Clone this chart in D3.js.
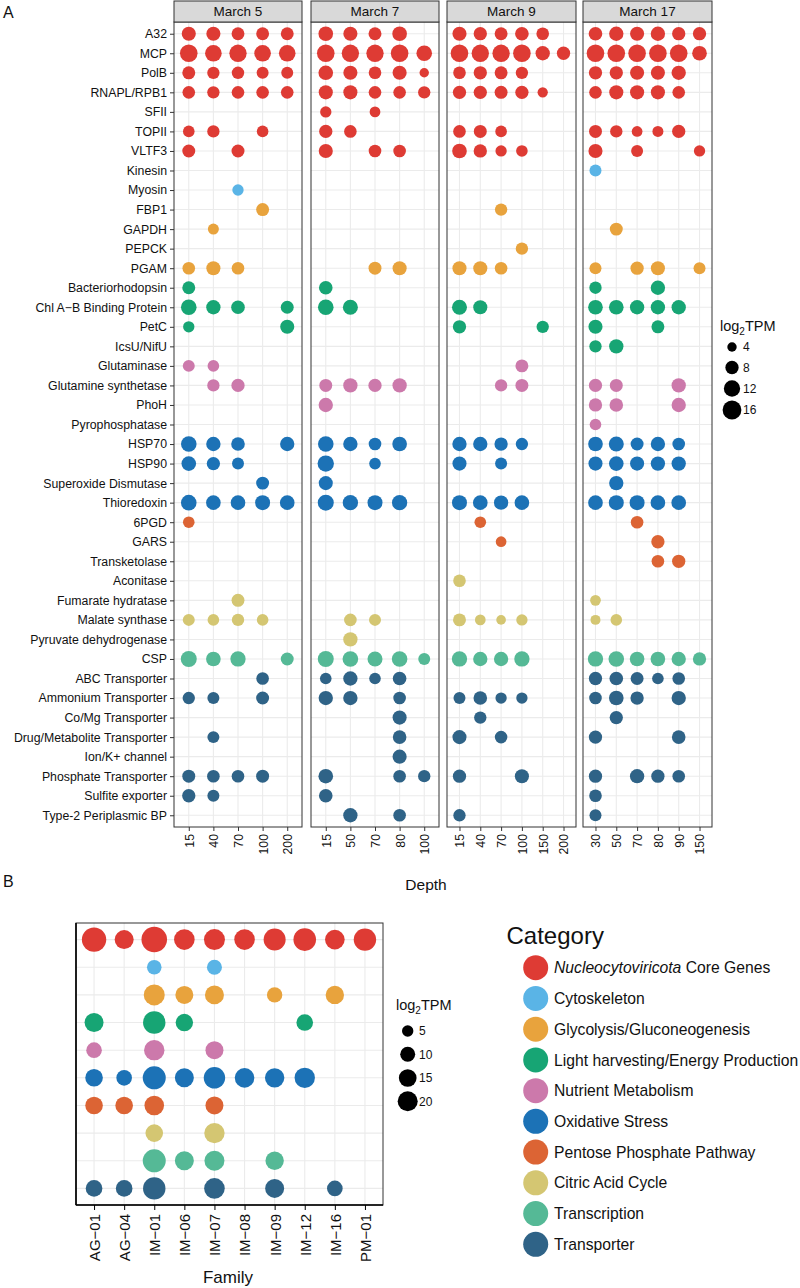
<!DOCTYPE html>
<html>
<head>
<meta charset="utf-8">
<script src="https://cdn.jsdelivr.net/npm/d3@7"></script>
<style>
  html, body { margin: 0; padding: 0; background: #fff; }
  svg { display: block; font-family: "Liberation Sans", Arial, Helvetica, sans-serif; }
</style>
</head>
<body>
<svg id="chart" width="800" height="1288"></svg>
<script>
// ---------------- DATA ----------------
const categories = [
  "Nucleocytoviricota Core Genes", "Cytoskeleton", "Glycolysis/Gluconeogenesis",
  "Light harvesting/Energy Production", "Nutrient Metabolism", "Oxidative Stress",
  "Pentose Phosphate Pathway", "Citric Acid Cycle", "Transcription", "Transporter"
];
const categoryColors = ["#de3b34", "#5ab4e6", "#e8a33d", "#17a574", "#cc79ab",
  "#1c72b6", "#dc6434", "#d4c672", "#55b996", "#2f6387"];

const genes = ["A32", "MCP", "PolB", "RNAPL/RPB1", "SFII", "TOPII", "VLTF3",
  "Kinesin", "Myosin",
  "FBP1", "GAPDH", "PEPCK", "PGAM",
  "Bacteriorhodopsin", "Chl A\u2212B Binding Protein", "PetC", "IcsU/NifU",
  "Glutaminase", "Glutamine synthetase", "PhoH", "Pyrophosphatase",
  "HSP70", "HSP90", "Superoxide Dismutase", "Thioredoxin",
  "6PGD", "GARS", "Transketolase",
  "Aconitase", "Fumarate hydratase", "Malate synthase", "Pyruvate dehydrogenase",
  "CSP",
  "ABC Transporter", "Ammonium Transporter", "Co/Mg Transporter",
  "Drug/Metabolite Transporter", "Ion/K+ channel", "Phosphate Transporter",
  "Sulfite exporter", "Type-2 Periplasmic BP"];
const geneCategory = [0,0,0,0,0,0,0, 1,1, 2,2,2,2, 3,3,3,3, 4,4,4,4, 5,5,5,5,
  6,6,6, 7,7,7,7, 8, 9,9,9,9,9,9,9,9];

const dates = ["March 5", "March 7", "March 9", "March 17"];
const depths = [
  [15, 40, 70, 100, 200],
  [15, 50, 70, 80, 100],
  [15, 40, 70, 100, 150, 200],
  [30, 50, 70, 80, 90, 150]
];
const n = null;
// log2TPM per gene (rows, same order as genes) per depth (columns)
const tpmMarch5 = [
  [9, 9, 7.5, 7.5, 7.5], [14, 12.5, 13.6, 12.5, 12.5], [7.6, 6.9, 7, 6.5, 6.5],
  [7.2, 6.9, 7.2, 7.2, 7.2], [n, n, n, n, n], [6.1, 6.9, n, 6.1, n], [7.6, n, 7.6, n, n],
  [n, n, n, n, n], [n, n, 5.8, n, n],
  [n, n, n, 7.6, n], [n, 5.5, n, n, n], [n, n, n, n, n], [7.2, 9, 7.2, n, n],
  [7.6, n, n, n, n], [11, 9.3, 8.4, n, 7.6], [5.8, n, n, n, 9], [n, n, n, n, n],
  [6.5, 6.1, n, n, n], [n, 6.9, 8, n, n], [n, n, n, n, n], [n, n, n, n, n],
  [11, 9.3, 8.4, n, 9.3], [9.7, 8, 6.5, n, n], [n, n, n, 7.6, n], [11, 9.7, 9.7, 10.2, 9.7],
  [6.1, n, n, n, n], [n, n, n, n, n], [n, n, n, n, n],
  [n, n, n, n, n], [n, n, 7.6, n, n], [6.5, 6.1, 6.9, 6.1, n], [n, n, n, n, n],
  [11.6, 9.7, 10.6, n, 7.6],
  [n, n, n, 7.2, n], [6.9, 6.5, n, 7.6, n], [n, n, n, n, n], [n, 6.5, n, n, n],
  [n, n, n, n, n], [7.6, 7.2, 7.2, 7.6, n], [8, 6.5, n, n, n], [n, n, n, n, n]
];
const tpmMarch7 = [
  [9.7, 9, 7.6, 9.7, n], [14, 13.6, 13.6, 14, 11], [9.7, 9, 7.2, 9, 4],
  [9, 9, 7.2, 7.2, 6.9], [5.8, n, 5.2, n, n], [8, 7.2, n, n, n], [9, n, 7.2, 7.2, n],
  [n, n, n, n, n], [n, n, n, n, n],
  [n, n, n, n, n], [n, n, n, n, n], [n, n, n, n, n], [n, n, 7.6, 9, n],
  [8.4, n, n, n, n], [11, 10.2, n, n, n], [n, n, n, n, n], [n, n, n, n, n],
  [n, n, n, n, n], [7.6, 9.3, 8, 9.3, n], [9.3, n, n, n, n], [n, n, n, n, n],
  [11, 9.3, 7.2, 9.7, n], [12.1, n, 6.1, n, n], [9, n, n, n, n], [11.6, 10.6, 10.2, 10.6, n],
  [n, n, n, n, n], [n, n, n, n, n], [n, n, n, n, n],
  [n, n, n, n, n], [n, n, n, n, n], [n, 7.2, 6.5, n, n], [n, 9.3, n, n, n],
  [11.6, 11, 10.2, 11, 6.5],
  [6.1, 9.3, 6.1, 8.4, n], [9.3, 9.3, n, 7.2, n], [n, n, n, 9, n], [n, n, n, 8.4, n],
  [n, n, n, 9, n], [9.7, n, n, 7.2, 6.9], [8.4, n, n, n, n], [n, 9.3, n, 7.2, n]
];
const tpmMarch9 = [
  [9, 8, 7.6, 8.4, 7.2, n], [14, 13.6, 13.6, 14, 9.3, 8], [7.2, 8, 7.6, 6.9, n, n],
  [8, 8, 7.6, 8, 4.8, n], [n, n, n, n, n, n], [7.2, 7.6, 6.1, n, n, n], [9.7, 8, 5.8, 6.1, n, n],
  [n, n, n, n, n, n], [n, n, n, n, n, n],
  [n, n, 6.9, n, n, n], [n, n, n, n, n, n], [n, n, n, 6.9, n, n], [9, 9, 7.2, n, n, n],
  [n, n, n, n, n, n], [10.2, 9, n, n, n, n], [8, n, n, n, 6.9, n], [n, n, n, n, n, n],
  [n, n, n, 7.6, n, n], [n, n, 6.9, 7.6, n, n], [n, n, n, n, n, n], [n, n, n, n, n, n],
  [9.3, 9.3, 8, 6.9, n, n], [9, n, 6.5, n, n, n], [n, n, n, n, n, n], [10.2, 9.7, 9.3, 9.7, n, n],
  [n, 6.1, n, n, n, n], [n, n, 5.2, n, n, n], [n, n, n, n, n, n],
  [7.2, n, n, n, n, n], [n, n, n, n, n, n], [7.6, 5.2, 4.2, 5.8, n, n], [n, n, n, n, n, n],
  [10.6, 9.3, 9.3, 10.6, n, n],
  [n, n, n, n, n, n], [6.5, 8.4, 5.8, 5.8, n, n], [n, 6.9, n, n, n, n], [9, n, 7.2, n, n, n],
  [n, n, n, n, n, n], [8, n, n, 9, n, n], [n, n, n, n, n, n], [6.9, n, n, n, n, n]
];
const tpmMarch17 = [
  [8.4, 9.3, 9, 9.3, 8, 8], [14, 14, 14, 14, 14, 9.7], [8, 8, 9, 9, 9.3, n],
  [7.2, 9, 9, 9, 7.2, n], [n, n, n, n, n, n], [7.6, 6.9, 5.2, 5.5, 8, n], [9, n, 6.5, n, n, 5.8],
  [6.5, n, n, n, n, n], [n, n, n, n, n, n],
  [n, n, n, n, n, n], [n, 7.6, n, n, n, n], [n, n, n, n, n, n], [6.5, n, 8, 9, n, 6.5],
  [6.9, n, n, 9.3, n, n], [9.7, 9.7, 9.3, 9.3, 9.3, n], [9, n, n, 7.6, n, n], [6.9, 9.3, n, n, n, n],
  [n, n, n, n, n, n], [8, 7.6, n, n, 9.3, n], [8, 8.4, n, n, 9.3, n], [6.1, n, n, n, n, n],
  [9.7, 10.2, 7.6, 9.3, 7.2, n], [9, 9.7, 9, 9.3, 9.3, n], [n, 9.3, n, n, n, n], [9.7, 10.2, 10.2, 9.7, 9.7, n],
  [n, n, 7.2, n, n, n], [n, n, n, 8, n, n], [n, n, n, 7.2, 8, n],
  [n, n, n, n, n, n], [5.2, n, n, n, n, n], [4.5, 6.1, n, n, n, n], [n, n, n, n, n, n],
  [10.6, 11, 9.7, 9.7, 9.3, 8],
  [8, 8.4, 7.6, 6.1, 7.2, n], [7.2, 9.7, 8, n, 9.3, n], [n, 8, n, n, n, n], [8, n, n, n, 8.4, n],
  [n, n, n, n, n, n], [8, n, 9.3, 8, 7.2, n], [7.2, n, n, n, n, n], [6.5, n, n, n, n, n]
];
const tpmByDate = [tpmMarch5, tpmMarch7, tpmMarch9, tpmMarch17];
const sizeBreaksA = [4, 8, 12, 16];

const families = ["AG\u221201", "AG\u221204", "IM\u221201", "IM\u221206", "IM\u221207",
  "IM\u221208", "IM\u221209", "IM\u221212", "IM\u221216", "PM\u221201"];
// log2TPM per category (rows) per family (columns)
const tpmFamily = [
  [31.5, 17.7, 35, 21.4, 22.4, 21.4, 24.9, 26.5, 19.1, 26],
  [n, n, 9.4, n, 10.1, n, n, n, n, n],
  [n, n, 22.4, 15.6, 17.7, n, 10.7, n, 16.4, n],
  [17.7, n, 26, 14.4, n, n, n, 12.9, n, n],
  [11.1, n, 20.9, n, 15.6, n, n, n, n, n],
  [14.8, 11.1, 27.6, 17.7, 23.4, 19.1, 18.6, 20.9, n, n],
  [14.8, 14.8, 19.1, n, 15.6, n, n, n, n, n],
  [n, n, 14.8, n, 20.9, n, n, n, n, n],
  [n, n, 27.6, 17.7, 20, n, 16.4, n, n, n],
  [12.9, 12.9, 26, n, 21.4, n, 17.7, n, 11.1, n]
];
const sizeBreaksB = [5, 10, 15, 20];

// ---------------- DRAW ----------------
const svg = d3.select("#chart");
const textCol = "#111";
const gridCol = "#ebebeb";

// Panel A geometry
const panelTop = 22, panelBottom = 827, stripTop = 1;
const panelX = [[174, 302], [311, 439], [447, 576], [583, 712]];

const yA = d3.scalePoint().domain(genes).range([panelTop, panelBottom]).padding(0.6);
const rA = d3.scaleSqrt().domain([0, 16]).range([0, 9.4]);

svg.append("text").attr("x", 3).attr("y", 18).attr("font-size", 16).attr("fill", textCol).text("A");

dates.forEach((date, di) => {
  const [x0, x1] = panelX[di];
  const x = d3.scalePoint().domain(depths[di]).range([x0, x1]).padding(0.6);
  const g = svg.append("g");
  g.append("rect").attr("x", x0).attr("y", panelTop).attr("width", x1 - x0)
    .attr("height", panelBottom - panelTop).attr("fill", "#fff");
  g.selectAll(".gy").data(genes).join("line")
    .attr("x1", x0).attr("x2", x1).attr("y1", d => yA(d)).attr("y2", d => yA(d))
    .attr("stroke", gridCol).attr("stroke-width", 1.1);
  g.selectAll(".gx").data(depths[di]).join("line")
    .attr("x1", d => x(d)).attr("x2", d => x(d)).attr("y1", panelTop).attr("y2", panelBottom)
    .attr("stroke", gridCol).attr("stroke-width", 1.1);
  const pts = [];
  tpmByDate[di].forEach((row, gi) => row.forEach((v, k) => {
    if (v != null) pts.push({ gene: genes[gi], cat: geneCategory[gi], depth: depths[di][k], v });
  }));
  g.selectAll("circle").data(pts).join("circle")
    .attr("cx", d => x(d.depth)).attr("cy", d => yA(d.gene)).attr("r", d => rA(d.v))
    .attr("fill", d => categoryColors[d.cat]);
  g.append("rect").attr("x", x0).attr("y", panelTop).attr("width", x1 - x0)
    .attr("height", panelBottom - panelTop).attr("fill", "none").attr("stroke", "#333").attr("stroke-width", 1);
  g.append("rect").attr("x", x0).attr("y", stripTop).attr("width", x1 - x0)
    .attr("height", panelTop - stripTop).attr("fill", "#d9d9d9").attr("stroke", "#333").attr("stroke-width", 1);
  g.append("text").attr("x", (x0 + x1) / 2).attr("y", (stripTop + panelTop) / 2).attr("dy", "0.36em")
    .attr("text-anchor", "middle").attr("font-size", 13.5).attr("fill", textCol).text(date);
  const ax = g.append("g").attr("transform", `translate(0,${panelBottom})`)
    .call(d3.axisBottom(x).tickSize(4).tickSizeOuter(0).tickPadding(3));
  ax.select(".domain").remove();
  ax.selectAll(".tick line").attr("stroke", "#333");
  ax.selectAll(".tick text").attr("font-size", 12.3).attr("fill", textCol)
    .attr("transform", "rotate(-90)").attr("text-anchor", "end")
    .attr("x", -7).attr("y", 0).attr("dy", "0.36em");
});

const ayA = svg.append("g").attr("transform", `translate(${panelX[0][0]},0)`)
  .call(d3.axisLeft(yA).tickSize(4).tickSizeOuter(0).tickPadding(3));
ayA.select(".domain").remove();
ayA.selectAll(".tick line").attr("stroke", "#333");
ayA.selectAll(".tick text").attr("font-size", 12.3).attr("fill", textCol);
svg.selectAll("g").attr("font-family", null);

svg.append("text").attr("x", 426).attr("y", 890).attr("text-anchor", "middle")
  .attr("font-size", 15.5).attr("fill", textCol).text("Depth");

function sizeLegend(x, yTitle, yItems, cx, lx, breaks, rScale) {
  const t = svg.append("text").attr("x", x).attr("y", yTitle).attr("font-size", 14.5).attr("fill", textCol);
  t.append("tspan").text("log");
  t.append("tspan").attr("font-size", 10).attr("dy", 4).text("2");
  t.append("tspan").attr("dy", -4).text("TPM");
  breaks.forEach((b, i) => {
    svg.append("circle").attr("cx", cx).attr("cy", yItems[i]).attr("r", rScale(b)).attr("fill", "#000");
    svg.append("text").attr("x", lx).attr("y", yItems[i]).attr("dy", "0.36em")
      .attr("font-size", 12).attr("fill", textCol).text(b);
  });
}
sizeLegend(720, 331, [347, 367.5, 388.5, 410], 732, 743, sizeBreaksA, rA);

// ---------------- Panel B ----------------
svg.append("text").attr("x", 3).attr("y", 887).attr("font-size", 16).attr("fill", textCol).text("B");

const bX0 = 76, bX1 = 383, bY0 = 923, bY1 = 1205;
const xB = d3.scalePoint().domain(families).range([bX0, bX1]).padding(0.6);
const yB = d3.scalePoint().domain(categories).range([bY0, bY1]).padding(0.6);
const rB = d3.scaleSqrt().domain([0, 20]).range([1.4, 10]);

const gB = svg.append("g");
gB.selectAll(".gy").data(categories).join("line")
  .attr("x1", bX0).attr("x2", bX1).attr("y1", d => yB(d)).attr("y2", d => yB(d))
  .attr("stroke", gridCol).attr("stroke-width", 1.1);
gB.selectAll(".gx").data(families).join("line")
  .attr("x1", d => xB(d)).attr("x2", d => xB(d)).attr("y1", bY0).attr("y2", bY1)
  .attr("stroke", gridCol).attr("stroke-width", 1.1);
const ptsB = [];
tpmFamily.forEach((row, ci) => row.forEach((v, fi) => {
  if (v != null) ptsB.push({ cat: ci, fam: families[fi], v });
}));
gB.selectAll("circle").data(ptsB).join("circle")
  .attr("cx", d => xB(d.fam)).attr("cy", d => yB(categories[d.cat])).attr("r", d => rB(d.v))
  .attr("fill", d => categoryColors[d.cat]);
gB.append("rect").attr("x", bX0).attr("y", bY0).attr("width", bX1 - bX0).attr("height", bY1 - bY0)
  .attr("fill", "none").attr("stroke", "#333").attr("stroke-width", 1);
gB.append("line").attr("x1", bX0).attr("x2", bX0).attr("y1", bY0).attr("y2", bY1)
  .attr("stroke", "#000").attr("stroke-width", 1.6);
gB.append("line").attr("x1", bX0).attr("x2", bX1).attr("y1", bY1).attr("y2", bY1)
  .attr("stroke", "#000").attr("stroke-width", 1.6);

const axB = gB.append("g").attr("transform", `translate(0,${bY1})`)
  .call(d3.axisBottom(xB).tickSize(5).tickSizeOuter(0));
axB.select(".domain").remove();
axB.selectAll(".tick line").attr("stroke", "#000");
axB.selectAll(".tick text").attr("font-size", 15).attr("fill", textCol)
  .attr("transform", "rotate(-90)").attr("text-anchor", "end")
  .attr("x", -9).attr("y", 0).attr("dy", "0.36em");
svg.selectAll("g").attr("font-family", null);

svg.append("text").attr("x", 228).attr("y", 1283).attr("text-anchor", "middle")
  .attr("font-size", 17).attr("fill", textCol).text("Family");

sizeLegend(396, 1010, [1031, 1054.3, 1078, 1101.3], 407.7, 419, sizeBreaksB, rB);

svg.append("text").attr("x", 506.5).attr("y", 944).attr("font-size", 24).attr("fill", textCol).text("Category");
const yLeg = d3.scalePoint().domain(categories).range([967.7, 1244.3]);
categories.forEach((c, i) => {
  svg.append("circle").attr("cx", 535.7).attr("cy", yLeg(c)).attr("r", 12.5).attr("fill", categoryColors[i]);
  const t = svg.append("text").attr("x", 554).attr("y", yLeg(c)).attr("dy", "0.36em")
    .attr("font-size", 15.7).attr("fill", textCol);
  if (i === 0) {
    t.append("tspan").attr("font-style", "italic").text("Nucleocytoviricota");
    t.append("tspan").text(" Core Genes");
  } else {
    t.text(c);
  }
});
</script>
</body>
</html>
